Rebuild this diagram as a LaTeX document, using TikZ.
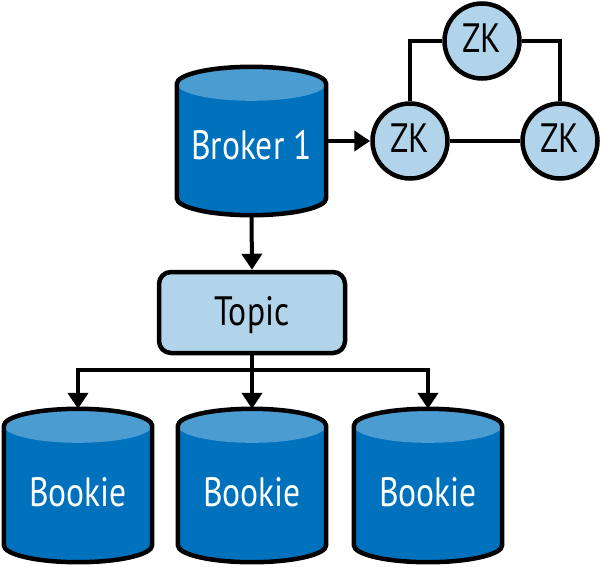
\documentclass[tikz,border=0pt]{standalone}
\usepackage{fontspec}
\setmainfont[FakeStretch=0.82]{PT Sans}
\usetikzlibrary{arrows.meta,backgrounds,calc}
\definecolor{cylbody}{HTML}{0071BC}
\definecolor{cyltop}{HTML}{4B9CD1}
\definecolor{lightblue}{HTML}{B2D4EA}
\begin{document}
\begin{tikzpicture}[x=1pt,y=1pt,
  every node/.style={font=\fontsize{41}{41}\selectfont, inner sep=0pt, text height=28.7pt, text depth=0pt},
  cylnode/.style={rectangle, minimum width=148pt, text=white},
  zk/.style={circle, draw, line width=4.5pt, fill=lightblue, minimum size=75pt},
  topicbox/.style={rectangle, rounded corners=12pt, draw, line width=4.5pt, fill=lightblue, minimum width=186pt, minimum height=81pt},
  conn/.style={line width=4pt},
  arr/.style={conn, -{Triangle[length=16pt,width=20pt]}},
  cylline/.style={draw, line width=4.5pt}]
\useasboundingbox (0,0) rectangle (601,566);

\node[cylnode, minimum width=149pt, minimum height=148pt] (b1) at (251.5,425) {\raisebox{-4.5pt}{Broker 1}};
\node[zk] (zl) at (410,425) {\raisebox{2.5pt}{ZK}};
\node[zk] (zt) at (482,525) {\raisebox{2.5pt}{ZK}};
\node[zk] (zr) at (560,425) {\raisebox{2.5pt}{ZK}};
\node[topicbox] (topic) at (252,253.5) {\raisebox{1.5pt}{Topic}};
\node[cylnode, minimum height=153pt] (k1) at (78,80.5) {\raisebox{-6.5pt}{Bookie}};
\node[cylnode, minimum height=153pt] (k2) at (252,80.5) {\raisebox{-6.5pt}{Bookie}};
\node[cylnode, minimum height=153pt] (k3) at (428,80.5) {\raisebox{-6.5pt}{Bookie}};

\begin{scope}[on background layer]
\foreach \c in {b1,k1,k2,k3}{
  \path let \p1=(\c.north west), \p2=(\c.south east), \n1={(\x2-\x1)/2} in
    [fill=cylbody] (\x1,\y1-17pt) -- (\x1,\y2+17pt)
      arc[start angle=180,end angle=360,x radius=\n1,y radius=17pt]
      -- (\x2,\y1-17pt)
      arc[start angle=0,end angle=180,x radius=\n1,y radius=17pt] -- cycle;
  \path let \p1=(\c.north west), \p2=(\c.south east), \n1={(\x2-\x1)/2} in
    [fill=cyltop] (\x1+\n1,\y1-17pt) ellipse[x radius=\n1, y radius=17pt];
  \path let \p1=(\c.north west), \p2=(\c.south east), \n1={(\x2-\x1)/2} in
    [cylline] (\x1,\y1-17pt) -- (\x1,\y2+17pt)
      arc[start angle=180,end angle=360,x radius=\n1,y radius=17pt]
      -- (\x2,\y1-17pt)
      arc[start angle=0,end angle=180,x radius=\n1,y radius=17pt] -- cycle;
}
\end{scope}

\draw[conn] (zt.west) -| (zl.north);
\draw[conn] (zt.east) -| (zr.north);
\draw[conn] (zl.east) -- (zr.west);
\draw[arr] (b1.east) -- (zl.west);
\draw[arr] (b1.south) -- (topic.north);
\coordinate (split) at (252,196);
\draw[conn] (topic.south) -- (split);
\draw[arr] (split) -| (k1.north);
\draw[arr] (split) -- (k2.north);
\draw[arr] (split) -| (k3.north);
\end{tikzpicture}
\end{document}
